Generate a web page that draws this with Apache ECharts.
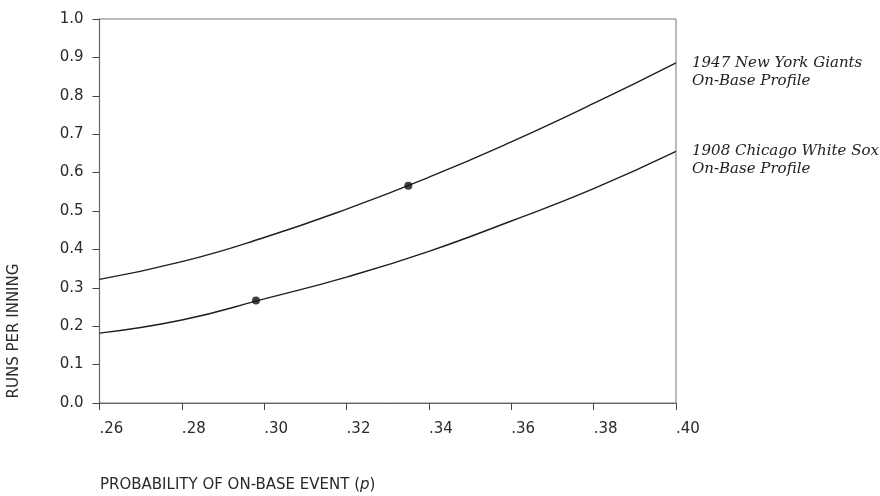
<!DOCTYPE html>
<html>
<head>
<meta charset="utf-8">
<script src="https://cdn.jsdelivr.net/npm/echarts@6/dist/echarts.min.js"></script>
<style>html,body{margin:0;padding:0;background:#fff}#c{width:880px;height:496px}</style>
</head>
<body>
<div id="c"></div>
<script>
const xValues = [0.26, 0.28, 0.30, 0.32, 0.34, 0.36, 0.38, 0.40];
const giants1947 = [0.322, 0.368, 0.431, 0.505, 0.588, 0.680, 0.780, 0.886];
const whiteSox1908 = [0.182, 0.216, 0.271, 0.328, 0.395, 0.474, 0.558, 0.655];
const giantsDot = [0.335, 0.566];
const whiteSoxDot = [0.298, 0.267];
const giantsLabel = '1947 New York Giants\nOn-Base Profile';
const whiteSoxLabel = '1908 Chicago White Sox\nOn-Base Profile';
const xTitle = 'PROBABILITY OF ON-BASE EVENT (';
const yTitle = 'RUNS PER INNING';

const chart = echarts.init(document.getElementById('c'));
const sansFont = '"DejaVu Sans", "Liberation Sans", sans-serif';
const serifFont = '"DejaVu Serif", "Liberation Serif", serif';
const toPairs = (xs, ys) => xs.map((x, i) => [x, ys[i]]);
const endLabel = {
  show: true,
  formatter: p => p.seriesName,
  fontFamily: serifFont,
  fontStyle: 'italic',
  fontSize: 15,
  lineHeight: 18,
  color: '#222',
  distance: 16,
  offset: [0, 9]
};
chart.setOption({
  animation: false,
  grid: { left: 99.5, right: 204, top: 19, bottom: 93, show: true, borderColor: '#777', borderWidth: 1 },
  xAxis: {
    type: 'value', min: 0.26, max: 0.40, interval: 0.02,
    axisLine: { show: true, lineStyle: { color: '#666', width: 1.2 } },
    axisTick: { show: true, length: 7, lineStyle: { color: '#444' } },
    splitLine: { show: false },
    axisLabel: {
      formatter: v => v.toFixed(2).replace(/^0/, ''),
      align: 'left', margin: 19, fontSize: 15, fontFamily: sansFont, color: '#2a2a2a'
    }
  },
  yAxis: {
    type: 'value', min: 0, max: 1, interval: 0.1,
    axisLine: { show: true, lineStyle: { color: '#666', width: 1.2 } },
    axisTick: { show: true, length: 7, lineStyle: { color: '#444' } },
    splitLine: { show: false },
    axisLabel: {
      formatter: v => v.toFixed(1),
      margin: 16, fontSize: 15, fontFamily: sansFont, color: '#2a2a2a'
    }
  },
  series: [
    {
      name: giantsLabel, type: 'line', smooth: true, showSymbol: false,
      data: toPairs(xValues, giants1947),
      lineStyle: { color: '#1e1e1e', width: 1.4 },
      endLabel: endLabel
    },
    {
      name: whiteSoxLabel, type: 'line', smooth: true, showSymbol: false,
      data: toPairs(xValues, whiteSox1908),
      lineStyle: { color: '#1e1e1e', width: 1.4 },
      endLabel: endLabel
    },
    {
      type: 'scatter', symbolSize: 8,
      data: [giantsDot, whiteSoxDot],
      itemStyle: { color: '#111' }, z: 5
    }
  ],
  graphic: [
    {
      type: 'text', left: 100, top: 478,
      style: {
        text: xTitle + '{i|p})',
        fontSize: 15, fontFamily: sansFont, fill: '#2a2a2a',
        rich: { i: { fontStyle: 'italic', fontSize: 15, fontFamily: sansFont, fill: '#2a2a2a' } }
      }
    },
    {
      type: 'text', x: 14, y: 331, rotation: Math.PI / 2,
      style: {
        text: yTitle, fontSize: 15, fontFamily: sansFont, fill: '#2a2a2a',
        align: 'center', verticalAlign: 'middle'
      }
    }
  ]
});
</script>
</body>
</html>
